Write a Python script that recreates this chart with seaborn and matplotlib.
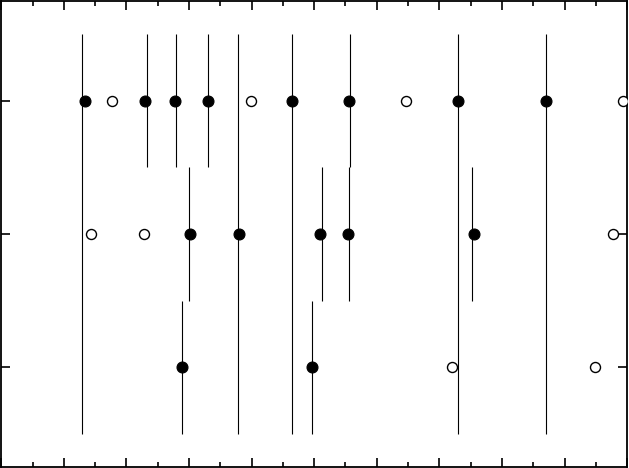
import numpy as np
import pandas as pd
import matplotlib
matplotlib.use("Agg")
import matplotlib.pyplot as plt
import seaborn as sns

# rows: 3 = top, 2 = middle, 1 = bottom
top_filled = [1.34, 2.30, 2.77, 3.30, 4.64, 5.56, 7.29, 8.70]
top_open = [1.77, 3.99, 6.47, 9.93]
mid_filled = [3.01, 3.80, 5.10, 5.54, 7.55]
mid_open = [1.44, 2.28, 9.77]
bot_filled = [2.89, 4.96]
bot_open = [7.20, 9.48]

# vertical markers spanning all rows
full_lines = [1.29, 3.78, 4.64, 7.29, 8.70]
# vertical markers spanning one row
top_lines = [2.33, 2.79, 3.30, 5.58]
mid_lines = [3.00, 5.12, 5.56, 7.52]
bot_lines = [2.89, 4.96]

rows = [1, 2, 3]

pts = []
for row, filled, opened in [(3, top_filled, top_open), (2, mid_filled, mid_open), (1, bot_filled, bot_open)]:
    for v in filled:
        pts.append({"x": v, "row": row, "kind": "filled"})
    for v in opened:
        pts.append({"x": v, "row": row, "kind": "open"})
df = pd.DataFrame(pts)

sns.set_style("ticks")
fig = plt.figure(figsize=(6.29, 4.68), dpi=100)
ax = fig.add_axes([0.002, 0.002, 0.995, 0.996])

ax.vlines(full_lines, 0.5, 3.5, color="black", lw=0.8, zorder=1)
for row, xs in [(3, top_lines), (2, mid_lines), (1, bot_lines)]:
    ax.vlines(xs, row - 0.5, row + 0.5, color="black", lw=0.8, zorder=1)

sns.scatterplot(data=df[df["kind"] == "filled"], x="x", y="row", ax=ax,
                color="black", edgecolor="black", s=62, linewidth=0.8, zorder=3)
sns.scatterplot(data=df[df["kind"] == "open"], x="x", y="row", ax=ax,
                color="white", edgecolor="black", s=52, linewidth=1.0, zorder=3)

ax.set_xlim(0, 10)
ax.set_ylim(0.25, 3.75)
ax.set_xticks(np.arange(0, 11, 1))
ax.set_xticks(np.arange(0, 10.5, 0.5), minor=True)
ax.set_yticks(rows)
ax.tick_params(axis="both", which="both", direction="in", top=True, right=True,
               labelbottom=False, labelleft=False, color="black")
ax.tick_params(which="major", length=6.5, width=1.2)
ax.tick_params(which="minor", length=3.3, width=1.2)
ax.set_xlabel("")
ax.set_ylabel("")
for sp in ax.spines.values():
    sp.set_linewidth(1.3)
    sp.set_color("black")

fig.savefig("out.png", dpi=100)
